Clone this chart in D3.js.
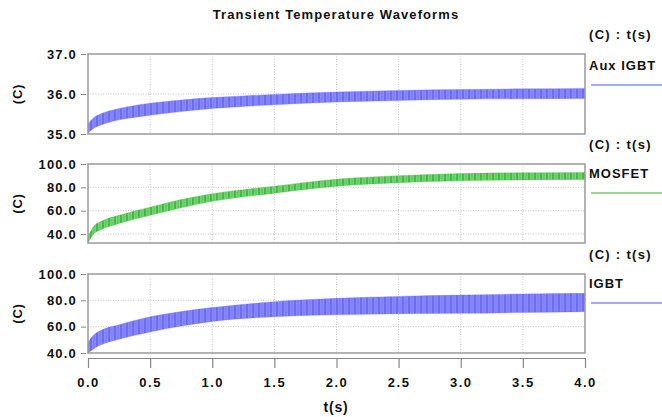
<!DOCTYPE html>
<html>
<head>
<meta charset="utf-8">
<script src="https://cdn.jsdelivr.net/npm/d3@7"></script>
<style>
  body { margin: 0; background: #fff; }
  text { font-family: "Liberation Sans", Arial, sans-serif; font-weight: bold; fill: #111; }
</style>
</head>
<body>
<script>
// Envelope of the ripple band (upper / lower per time)
const timesAux = [0, 0.05, 0.1, 0.2, 0.3, 0.5, 0.75, 1.0, 1.25, 1.5, 2.0, 2.5, 3.0, 3.5, 4.0];
const auxUpper = [35.25, 35.42, 35.5, 35.6, 35.67, 35.77, 35.85, 35.91, 35.95, 35.99, 36.05, 36.09, 36.11, 36.13, 36.14];
const auxLower = [35.02, 35.15, 35.22, 35.32, 35.38, 35.47, 35.56, 35.64, 35.69, 35.73, 35.8, 35.84, 35.87, 35.88, 35.89];

const times = [0, 0.05, 0.1, 0.25, 0.5, 0.75, 1.0, 1.5, 2.0, 2.5, 3.0, 3.5, 4.0];
const mosfetUpper = [38, 47, 50.5, 56, 63, 69.5, 74.5, 81, 87, 90, 91.8, 92.5, 92.8];
const mosfetLower = [32.5, 40.5, 43.5, 49, 56, 62.5, 68, 75, 81, 84, 85.6, 86.3, 86.8];
const igbtUpper = [48, 54, 57, 61.5, 67.5, 71.5, 74.5, 79, 81.5, 83, 84, 84.8, 85.3];
const igbtLower = [40, 43.5, 46, 50.5, 56, 60.5, 64, 67.6, 69, 69.8, 70.1, 70.8, 71.4];

const xTicks = [0, 0.5, 1.0, 1.5, 2.0, 2.5, 3.0, 3.5, 4.0];
const auxTicks = [35, 36, 37];
const tempTicks = [40, 60, 80, 100];

const panels = [
  { name: "Aux IGBT", t: timesAux, upper: auxUpper, lower: auxLower, domain: [35, 37], ticks: auxTicks, top: 54, bottom: 134, color: "blue" },
  { name: "MOSFET", t: times, upper: mosfetUpper, lower: mosfetLower, domain: [32.3, 100], ticks: tempTicks, top: 164, bottom: 243, color: "green" },
  { name: "IGBT", t: times, upper: igbtUpper, lower: igbtLower, domain: [40, 100], ticks: tempTicks, top: 274, bottom: 353, color: "blue" }
];

const W = 662, H = 417;
const left = 88, right = 585;

const svg = d3.select("body").append("svg")
  .attr("width", W)
  .attr("height", H);

// hatched fills to mimic the dense ripple
const defs = svg.append("defs");
const fills = {
  blue: { base: "#8a8aff", line: "#6060f0", legend: "#8c8cff" },
  green: { base: "#74d474", line: "#34ad34", legend: "#6fcf6f" }
};
Object.entries(fills).forEach(([key, c]) => {
  const p = defs.append("pattern")
    .attr("id", "hatch-" + key)
    .attr("patternUnits", "userSpaceOnUse")
    .attr("width", 6)
    .attr("height", 6);
  p.append("rect").attr("width", 6).attr("height", 6).attr("fill", c.base);
  p.append("line")
    .attr("x1", 1).attr("y1", 0).attr("x2", 1).attr("y2", 6)
    .attr("stroke", c.line).attr("stroke-width", 1.4);
  p.append("line")
    .attr("x1", 4).attr("y1", 0).attr("x2", 4).attr("y2", 6)
    .attr("stroke", c.line).attr("stroke-width", 0.8).attr("stroke-opacity", 0.5);
});

const x = d3.scaleLinear().domain([0, 4]).range([left, right]);

// title
svg.append("text")
  .attr("x", 336)
  .attr("y", 19)
  .attr("text-anchor", "middle")
  .style("font-size", "13px")
  .style("letter-spacing", "1.1px")
  .text("Transient Temperature Waveforms");

panels.forEach(p => {
  const y = d3.scaleLinear().domain(p.domain).range([p.bottom, p.top]);
  const g = svg.append("g");

  // grid
  g.selectAll(".vgrid")
    .data(xTicks.slice(1, -1))
    .enter().append("line")
    .attr("x1", d => x(d)).attr("x2", d => x(d))
    .attr("y1", p.top).attr("y2", p.bottom)
    .attr("stroke", "#c4c4c4")
    .attr("stroke-dasharray", "1,1.5");

  g.selectAll(".hgrid")
    .data(p.ticks.filter(d => d > p.domain[0] && d < p.domain[1]))
    .enter().append("line")
    .attr("x1", left).attr("x2", right)
    .attr("y1", d => y(d)).attr("y2", d => y(d))
    .attr("stroke", "#c4c4c4")
    .attr("stroke-dasharray", "1,1.5");

  // ripple band
  const rows = p.t.map((t, i) => ({ t: t, hi: p.upper[i], lo: p.lower[i] }));
  const area = d3.area()
    .x(d => x(d.t))
    .y0(d => y(d.lo))
    .y1(d => y(d.hi))
    .curve(d3.curveMonotoneX);
  g.append("path")
    .datum(rows)
    .attr("d", area)
    .attr("fill", `url(#hatch-${p.color})`)
    .attr("stroke", fills[p.color].line)
    .attr("stroke-width", 0.6)
    .attr("stroke-opacity", 0.5);

  // frame
  g.append("rect")
    .attr("x", left).attr("y", p.top)
    .attr("width", right - left).attr("height", p.bottom - p.top)
    .attr("fill", "none")
    .attr("stroke", "#9a9a9a")
    .attr("stroke-width", 1.5);

  // y axis
  const ya = g.append("g")
    .attr("transform", `translate(${left - 2},0)`)
    .call(d3.axisLeft(y).tickValues(p.ticks).tickFormat(d3.format(".1f")).tickSize(5).tickPadding(4));
  ya.select(".domain").remove();
  ya.selectAll("line").attr("stroke", "#888");
  ya.selectAll("text")
    .style("font-size", "13px")
    .style("letter-spacing", "1.2px")
    .style("font-family", "'Liberation Sans', Arial, sans-serif")
    .style("font-weight", "bold")
    .attr("fill", "#111");

  svg.append("text")
    .attr("transform", `translate(22,${(p.top + p.bottom) / 2}) rotate(-90)`)
    .attr("text-anchor", "middle")
    .style("font-size", "13px")
    .style("letter-spacing", "0.8px")
    .text("(C)");

  // legend
  svg.append("text")
    .attr("x", 589).attr("y", p.top - 15)
    .style("font-size", "13px")
    .style("letter-spacing", "1.3px")
    .text("(C) : t(s)");
  svg.append("text")
    .attr("x", 589).attr("y", p.top + (p.name === "Aux IGBT" ? 16 : 14))
    .style("font-size", "13px")
    .style("letter-spacing", "1px")
    .text(p.name);
  const ly = p.top + (p.name === "Aux IGBT" ? 31 : 29);
  svg.append("line")
    .attr("x1", 591).attr("x2", W)
    .attr("y1", ly).attr("y2", ly)
    .attr("stroke", fills[p.color].legend)
    .attr("stroke-width", 1.5);
});

// x axis below the last panel
const xa = svg.append("g")
  .attr("transform", "translate(0,358)")
  .call(d3.axisBottom(x).tickValues(xTicks).tickFormat(d3.format(".1f")).tickSize(10).tickSizeOuter(0).tickPadding(10));
xa.select(".domain").attr("stroke", "#888").attr("stroke-width", 1.2);
xa.selectAll("line").attr("stroke", "#888").attr("stroke-width", 1.2);
xa.selectAll("text")
  .style("font-size", "13px")
  .style("letter-spacing", "1.5px")
  .style("font-family", "'Liberation Sans', Arial, sans-serif")
  .style("font-weight", "bold")
  .attr("fill", "#111");

svg.append("text")
  .attr("x", 336).attr("y", 412)
  .attr("text-anchor", "middle")
  .style("font-size", "14px")
  .style("letter-spacing", "0.8px")
  .text("t(s)");
</script>
</body>
</html>
